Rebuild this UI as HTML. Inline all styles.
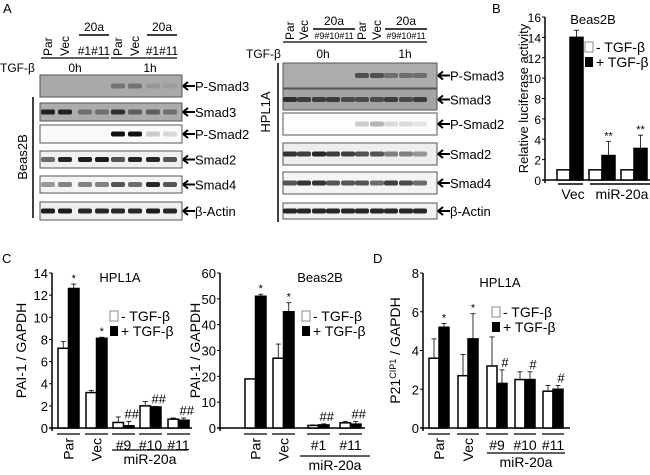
<!DOCTYPE html>
<html><head><meta charset="utf-8"><style>
html,body{margin:0;padding:0;background:#fff;}
svg{display:block;font-family:"Liberation Sans",Arial,sans-serif;}
</style></head><body>
<svg id="fig" width="650" height="475" viewBox="0 0 650 475" xmlns="http://www.w3.org/2000/svg">
<g id="blots"></g>
<g id="charts"></g>
</svg>
<script>
const NS="http://www.w3.org/2000/svg";
function mk(parent,tag,attrs,text){const e=document.createElementNS(NS,tag);for(const k in attrs)e.setAttribute(k,attrs[k]);if(text!==undefined)e.textContent=text;parent.appendChild(e);return e;}
const B=document.getElementById('blots');
const C=document.getElementById('charts');

// ===== Panel A blots =====
let t;
t=mk(B,'text',{x:3,y:13,'font-size':13},'A');



function blotPanel(cfg){
  const g=mk(B,'g',{});
  
  
  mk(g,'line',{x1:cfg.barX,y1:cfg.barY1,x2:cfg.barX,y2:cfg.barY2,stroke:'#000','stroke-width':1.5});
  t=mk(g,'text',{x:cfg.cellX,y:cfg.cellY,'font-size':13,'text-anchor':'middle',transform:`rotate(-90 ${cfg.cellX} ${cfg.cellY})`},cfg.cell);
  
  
  t=mk(g,'text',{x:cfg.tgfX,y:cfg.tgfY,'font-size':12},'TGF-β');
  
  
  mk(g,'text',{x:cfg.h0X,y:cfg.tgfY,'font-size':12,'text-anchor':'middle'},'0h');
  mk(g,'text',{x:cfg.h1X,y:cfg.tgfY,'font-size':12,'text-anchor':'middle'},'1h');
  const n=cfg.lanes.length, half=n/2;
  for(let h=0;h<2;h++){
    const lanes=cfg.lanes.slice(h*half,h*half+half);
    const x0=lanes[0]-7,x1=lanes[half-1]+7;
    mk(g,'line',{x1:x0,y1:cfg.hdrLineY,x2:x1,y2:cfg.hdrLineY,stroke:'#000','stroke-width':1.2});
    ['Par','Vec'].forEach((s,i)=>{const lx=lanes[i]+4;mk(g,'text',{x:lx,y:cfg.hdrLineY-2,'font-size':12,transform:`rotate(-90 ${lx} ${cfg.hdrLineY-2})`},s);});
    const ax=lanes[2]-6,bx=x1;
    mk(g,'line',{x1:ax,y1:cfg.t20LineY,x2:bx,y2:cfg.t20LineY,stroke:'#000','stroke-width':1.4});
    mk(g,'text',{x:(ax+bx)/2,y:cfg.t20LineY-4,'font-size':12,'text-anchor':'middle'},'20a');
    mk(g,'text',{x:(ax+bx)/2,y:cfg.hdrLineY-3,'font-size':cfg.numFs,'text-anchor':'middle'},cfg.nums);
  }
  cfg.rows.forEach(r=>{
    const rg=mk(g,'g',{});
    
    
    mk(rg,'rect',{x:cfg.bx,y:r.y,width:cfg.bw,height:r.h,fill:r.bg,stroke:'#555','stroke-width':1});
    r.ints.forEach((a,i)=>{ if(a>0) mk(rg,'rect',{x:cfg.lanes[i]-7,y:r.y+r.h/2-2.5,width:14,height:5,rx:2,fill:'#111','fill-opacity':a}); });
    const cy=r.y+r.h/2, ax=cfg.labX;
    mk(rg,'path',{d:`M${ax+1} ${cy} L${ax+13} ${cy} M${ax+1} ${cy} L${ax+6} ${cy-4} M${ax+1} ${cy} L${ax+6} ${cy+4}`,stroke:'#000','stroke-width':2,fill:'none'});
    mk(rg,'text',{x:ax+13,y:cy+5,'font-size':13},r.label);
  });
}
blotPanel({name:'blot-beas2b',cell:'Beas2B',cellX:27,cellY:157,barX:33,barY1:97,barY2:218,tgfX:0,tgfY:72,h0X:75,h1X:150,
  lanes:[48,65,85,102,118,135,153,170],hdrLineY:58,t20LineY:35,nums:'#1#11',numFs:12,bx:40,bw:142,labX:182,
  rows:[{label:'P-Smad3',y:75,h:22,bg:'#a9a9a9',ints:[0,0,0,0,.35,.35,.12,.08]},
        {label:'Smad3',y:103,h:18,bg:'#acacac',ints:[.9,.9,.4,.4,.8,.5,.5,.4]},
        {label:'P-Smad2',y:125,h:18,bg:'#fafafa',ints:[0,0,0,0,1,1,.2,.15]},
        {label:'Smad2',y:151,h:17,bg:'#f0f0f0',ints:[.6,.9,.95,.95,.7,.9,.9,.7]},
        {label:'Smad4',y:176,h:17,bg:'#f4f4f4',ints:[.4,.5,.5,.5,.7,.6,.9,.7]},
        {label:'β-Actin',y:202,h:18,bg:'#f0f0f0',ints:[.95,.95,.9,.9,.9,.9,.95,.9]}]});
blotPanel({name:'blot-hpl1a',cell:'HPL1A',cellX:270,cellY:112,barX:278,barY1:63,barY2:222,tgfX:246,tgfY:58,h0X:323,h1X:405,
  lanes:[290,304,319,333,348,362,377,391,406,420],hdrLineY:42,t20LineY:29,nums:'#9#10#11',numFs:9,bx:283,bw:154,labX:437,
  rows:[{label:'P-Smad3',y:63,h:25,bg:'#acacac',ints:[0,0,0,0,0,.6,.6,.4,.4,.4]},
        {label:'Smad3',y:89,h:21,bg:'#a4a4a4',ints:[.8,.7,.7,.7,.6,.6,.6,.7,.6,.7]},
        {label:'P-Smad2',y:113,h:22,bg:'#fdfdfd',ints:[0,0,0,0,0,.2,.3,.15,.15,.1]},
        {label:'Smad2',y:143,h:22,bg:'#eeeeee',ints:[.85,.8,.9,.8,.8,.7,.7,.5,.5,.4]},
        {label:'Smad4',y:172,h:22,bg:'#f4f4f4',ints:[.7,.85,.85,.7,.7,.7,.6,.8,.75,.6]},
        {label:'β-Actin',y:203,h:16,bg:'#f2f2f2',ints:[.9,.9,.9,.9,.9,.9,.9,.9,.9,.9]}]});

// ===== Bar chart data =====
const bGroups=['Vec','miR-20a-1','miR-20a-2'];
const bNoTgf=[1,1,1];
const bNoTgfErr=[0,0,0];
const bTgf=[14,2.4,3.1];
const bTgfErr=[0.7,1.4,1.3];
const bStars=['','**','**'];
const bTicks=[0,2,4,6,8,10,12,14,16];

const c1Groups=['Par','Vec','#9','#10','#11'];
const c1NoTgf=[7.2,3.2,0.5,2.0,0.8];
const c1NoTgfErr=[0.6,0.2,0.5,0.4,0.1];
const c1Tgf=[12.6,8.1,0.2,1.9,0.7];
const c1TgfErr=[0.4,0.1,0.4,0.05,0.2];
const c1Marks=['*','*','##','##','##'];
const c1Ticks=[0,2,4,6,8,10,12,14];

const c2Groups=['Par','Vec','#1','#11'];
const c2NoTgf=[19,27,1,2];
const c2NoTgfErr=[0,5.5,0.2,0.6];
const c2Tgf=[51,45,1.2,1.5];
const c2TgfErr=[0.8,3.5,0.4,1];
const c2Marks=['*','*','##','##'];
const c2Ticks=[0,10,20,30,40,50,60];

const dGroups=['Par','Vec','#9','#10','#11'];
const dNoTgf=[3.6,2.7,3.2,2.5,1.9];
const dNoTgfErr=[1.0,1.1,1.5,0.4,0.3];
const dTgf=[5.2,4.6,2.3,2.5,2.0];
const dTgfErr=[0.2,1.3,0.7,0.4,0.2];
const dMarks=['*','*','#','#','#'];
const dTicks=[0,2,4,6,8];

function barChart(o){
  const g=mk(C,'g',{});
  
  
  const max=o.ticks[o.ticks.length-1];
  const y=v=>o.y0-(v/max)*(o.y0-o.yTop);
  mk(g,'line',{x1:o.ax,y1:o.yTop,x2:o.ax,y2:o.y0+3,stroke:'#000','stroke-width':1.5});
  mk(g,'line',{x1:o.ax-3,y1:o.y0,x2:o.axEnd,y2:o.y0,stroke:'#000','stroke-width':1.5});
  o.ticks.forEach(v=>{
    mk(g,'line',{x1:o.ax-3,y1:y(v),x2:o.ax,y2:y(v),stroke:'#000','stroke-width':1});
    t=mk(g,'text',{x:o.ax-4,y:y(v)+5,'font-size':o.tickFs||13,'text-anchor':'end'},String(v));
    
    
  });
  const lx=o.ylabX, ly=(o.y0+o.yTop)/2;
  t=mk(g,'text',{x:lx,y:ly,'font-size':o.ylabFs||13,'text-anchor':'middle',transform:`rotate(-90 ${lx} ${ly})`});
  
  
  if(o.ylabSup){t.appendChild(document.createTextNode('P21'));mk(t,'tspan',{'font-size':9,dy:-4},'CIP1');mk(t,'tspan',{dy:4},' / GAPDH');}
  else t.textContent=o.ylab;
  o.groups.forEach((gn,i)=>{
    const x=o.gx[i];
    [[o.no,o.noErr,'#fff',0],[o.tg,o.tgErr,'#000',1]].forEach(([vals,errs,fill,k])=>{
      const bx=x+k*o.bw, top=y(vals[i]);
      const r=mk(g,'rect',{x:bx,y:top,width:o.bw,height:o.y0-top,fill:fill,stroke:'#000','stroke-width':1.5});
      
      
      if(errs[i]>0){const e=y(vals[i]+errs[i]);const cx=bx+o.bw/2;
        mk(g,'line',{x1:cx,y1:top,x2:cx,y2:e,stroke:'#000','stroke-width':0.8});
        mk(g,'line',{x1:cx-2.5,y1:e,x2:cx+2.5,y2:e,stroke:'#000','stroke-width':0.8});}
      if(k===1 && o.marks[i]){const e=y(vals[i]+errs[i]);
        const big=o.marks[i].startsWith('#');
        mk(g,'text',{x:bx+o.bw/2+(big?3:0),y:e-(big?3:2),'font-size':big?13:11,'text-anchor':'middle'},o.marks[i]);}
    });
    if(o.underline) mk(g,'line',{x1:x-1,y1:o.y0+6,x2:x+2*o.bw+1,y2:o.y0+6,stroke:'#000','stroke-width':1.2});
    t=null;
    if(o.labels){const L=o.labels[i];
      if(L.rot){const tx=x+o.bw+5,ty=o.y0+10;t=mk(g,'text',{x:tx,y:ty,'font-size':14,'text-anchor':'end',transform:`rotate(-90 ${tx} ${ty})`},gn);}
      else if(L.show){t=mk(g,'text',{x:x+o.bw,y:o.y0+22,'font-size':14,'text-anchor':'middle'},gn);}
      if(t){}
    }
  });
  if(o.mir){mk(g,'line',{x1:o.mir[0],y1:o.mir[2],x2:o.mir[1],y2:o.mir[2],stroke:'#000','stroke-width':1.2});
    t=mk(g,'text',{x:(o.mir[0]+o.mir[1])/2,y:o.mir[2]+14,'font-size':14,'text-anchor':'middle'},'miR-20a');
    }
  t=mk(g,'text',{x:o.title[0],y:o.title[1],'font-size':13,'text-anchor':'middle'},o.titleText);
  
  const lg=mk(g,'g',{});
  
  
  mk(lg,'rect',{x:o.leg[0],y:o.leg[1],width:8,height:10,fill:'#fff',stroke:'#888','stroke-width':1});
  mk(lg,'text',{x:o.leg[0]+11,y:o.leg[1]+10,'font-size':14},'- TGF-β');
  mk(lg,'rect',{x:o.leg[0],y:o.leg[1]+15,width:8,height:10,fill:'#000'});
  mk(lg,'text',{x:o.leg[0]+11,y:o.leg[1]+25,'font-size':14},'+ TGF-β');
}

// Panel B
t=mk(C,'text',{x:492,y:13,'font-size':13},'B');

barChart({name:'chart-b-luciferase',ax:545,axEnd:650,y0:180,yTop:17,ticks:bTicks,tickFs:12,ylab:'Relative luciferase activity',ylabX:528,ylabFs:13,
  groups:bGroups,gx:[557,589,621],bw:13,no:bNoTgf,noErr:bNoTgfErr,tg:bTgf,tgErr:bTgfErr,marks:bStars,
  title:[593,24],titleText:'Beas2B',leg:[585,42]});
(function(){const g=C.lastChild;
  mk(g,'line',{x1:558,y1:184,x2:583,y2:184,stroke:'#000','stroke-width':1.5});
  mk(g,'line',{x1:590,y1:184,x2:650,y2:184,stroke:'#000','stroke-width':1.5});
  mk(g,'text',{x:573,y:199,'font-size':14,'text-anchor':'middle'},'Vec');
  mk(g,'text',{x:622,y:199,'font-size':14,'text-anchor':'middle'},'miR-20a');})();

// Panel C
t=mk(C,'text',{x:2,y:263,'font-size':13},'C');

barChart({name:'chart-c-hpl1a-pai1',ax:52,axEnd:192,y0:428,yTop:273,ticks:c1Ticks,ylab:'PAI-1 / GAPDH',ylabX:26,ylabFs:14,
  groups:c1Groups,gx:[58,86,113,140,168],bw:10.5,no:c1NoTgf,noErr:c1NoTgfErr,tg:c1Tgf,tgErr:c1TgfErr,marks:c1Marks,
  underline:true,labels:[{rot:1},{rot:1},{show:1},{show:1},{show:1}],mir:[112,188,450],
  title:[120,282],titleText:'HPL1A',leg:[110,311]});
barChart({name:'chart-c-beas2b-pai1',ax:220,axEnd:365,y0:428,yTop:273,ticks:c2Ticks,ylab:'PAI-1 / GAPDH',ylabX:200,ylabFs:14,
  groups:c2Groups,gx:[245,273,308,340],bw:10.5,no:c2NoTgf,noErr:c2NoTgfErr,tg:c2Tgf,tgErr:c2TgfErr,marks:c2Marks,
  underline:true,labels:[{rot:1},{rot:1},{show:1},{show:1}],mir:[300,370,456],
  title:[320,282],titleText:'Beas2B',leg:[302,311]});

// Panel D
t=mk(C,'text',{x:373,y:263,'font-size':13},'D');

barChart({name:'chart-d-p21',ax:423,axEnd:570,y0:428,yTop:273,ticks:dTicks,ylabSup:true,ylabX:400,ylabFs:14,
  groups:dGroups,gx:[429,458,487,515,543],bw:10,no:dNoTgf,noErr:dNoTgfErr,tg:dTgf,tgErr:dTgfErr,marks:dMarks,
  underline:true,labels:[{rot:1},{rot:1},{show:1},{show:1},{show:1}],mir:[487,565,453],
  title:[500,287],titleText:'HPL1A',leg:[492,307]});
</script>
</body></html>
